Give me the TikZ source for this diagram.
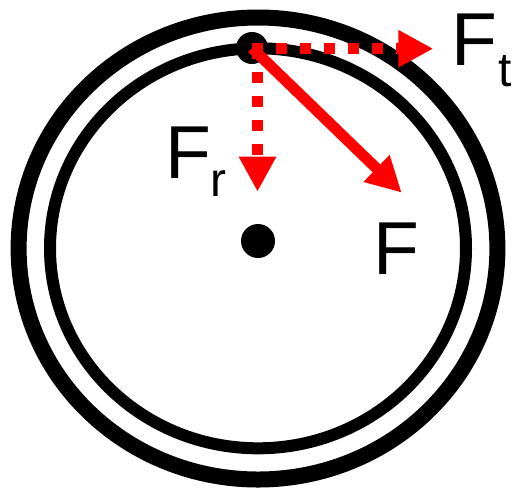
\documentclass[tikz,border=0pt]{standalone}
\usepackage{fontspec}
\setmainfont{Liberation Sans}
\usetikzlibrary{arrows.meta}
\begin{document}
\begin{tikzpicture}[x=1pt,y=-1pt,
  force/.style={red, line width=11pt},
  dotforce/.style={force, dash pattern=on 10.7pt off 13.3pt},
  forcetip/.style={-{Triangle[length=35pt,width=35pt]}},
  blackdot/.style={circle, fill=black, inner sep=0pt},
  lbl/.style={anchor=base west, inner sep=0pt, font=\fontsize{75pt}{75pt}\selectfont}]
\useasboundingbox (0,0) rectangle (513,488);
% rings
\draw[line width=16pt] (258,248.5) ellipse [x radius=239.4pt, y radius=231pt];
\draw[line width=12pt] (258,248.3) ellipse [x radius=208pt, y radius=200pt];
% dots
\node[blackdot, minimum size=34pt] (o) at (258,241) {};
\node[blackdot, minimum size=32pt] (p) at (252,48) {};
% arrow ends
\coordinate (ft) at (433.3,48.7);
\coordinate (fr) at (257.5,191.7);
\coordinate (f) at (401.7,192.7);
\coordinate (ps) at (252,48.7);
\coordinate (pv) at (257.5,48);
% arrows
\draw[dotforce, forcetip] (ps) -- (ft);
\draw[dotforce, forcetip] (pv) -- (fr);
\draw[force, forcetip] (p.center) -- (f);
% labels
\node[lbl] (lf) at (373,274) {F};
\node[lbl] (lft) at (451.5,65) {F\kern1pt\raisebox{-21pt}{\fontsize{48pt}{48pt}\selectfont t}};
\node[lbl] (lfr) at (165.7,178.3) {F\kern-1.5pt\raisebox{-18pt}{\fontsize{48pt}{48pt}\selectfont r}};
\end{tikzpicture}
\end{document}
